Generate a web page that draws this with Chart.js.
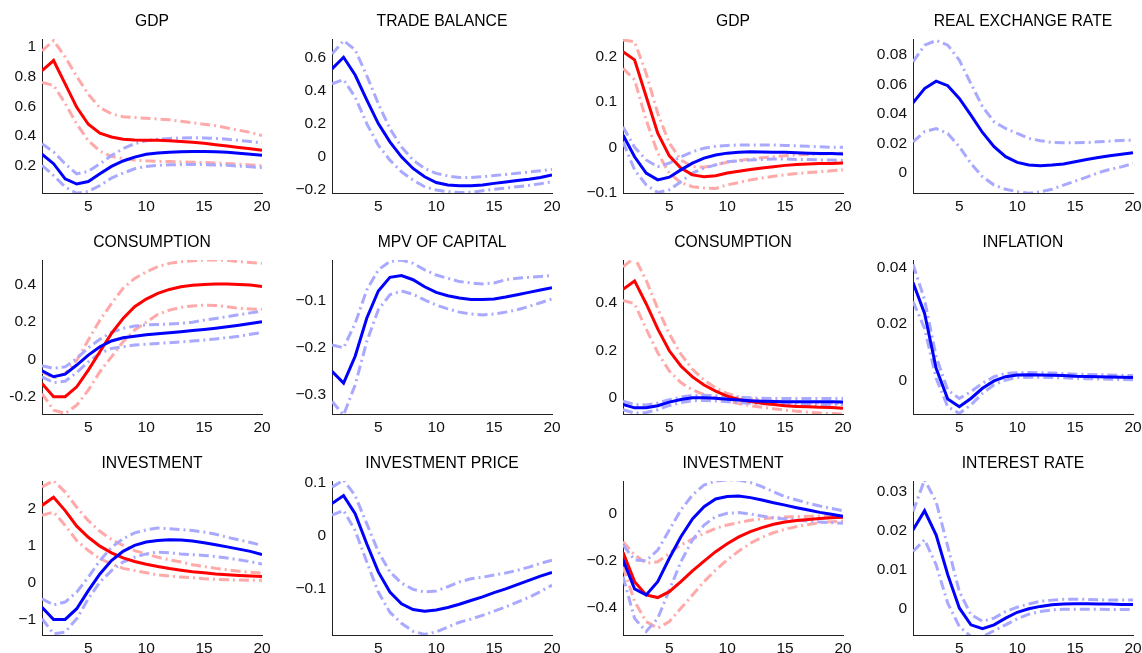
<!DOCTYPE html>
<html>
<head>
<meta charset="utf-8">
<script src="https://cdn.jsdelivr.net/npm/chart.js@4/dist/chart.umd.min.js"></script>
<style>
  html, body { margin: 0; padding: 0; background: #fff; }
  #fig { position: relative; width: 1142px; height: 653px; overflow: hidden; background: #fff; }
  #fig canvas { position: absolute; }
</style>
</head>
<body>
<div id="fig"></div>
<script>
// Horizon (quarters) and x-axis tick labels
const periods = [1, 2, 3, 4, 5, 6, 7, 8, 9, 10, 11, 12, 13, 14, 15, 16, 17, 18, 19, 20];
const xTicks = [5, 10, 15, 20];

// ---- GDP (first model pair) ----
const gdpATicks = [0.2, 0.4, 0.6, 0.8, 1];
const gdpARed   = [0.838, 0.906, 0.75, 0.593, 0.48, 0.42, 0.395, 0.38, 0.375, 0.373, 0.372, 0.37, 0.365, 0.36, 0.352, 0.343, 0.335, 0.325, 0.316, 0.305];
const gdpARedHi = [0.97, 1.04, 0.93, 0.8, 0.68, 0.59, 0.55, 0.53, 0.525, 0.52, 0.515, 0.51, 0.5, 0.49, 0.48, 0.47, 0.455, 0.44, 0.425, 0.405];
const gdpARedLo = [0.76, 0.74, 0.62, 0.48, 0.37, 0.3, 0.265, 0.25, 0.24, 0.235, 0.232, 0.23, 0.228, 0.226, 0.224, 0.22, 0.217, 0.213, 0.208, 0.202];
const gdpABlue   = [0.279, 0.216, 0.115, 0.08, 0.097, 0.148, 0.198, 0.234, 0.26, 0.279, 0.287, 0.293, 0.296, 0.298, 0.298, 0.296, 0.292, 0.286, 0.279, 0.272];
const gdpABlueHi = [0.35, 0.295, 0.215, 0.148, 0.165, 0.215, 0.27, 0.317, 0.35, 0.37, 0.38, 0.385, 0.388, 0.389, 0.388, 0.385, 0.38, 0.372, 0.364, 0.355];
const gdpABlueLo = [0.205, 0.137, 0.06, 0.018, 0.03, 0.07, 0.12, 0.153, 0.182, 0.198, 0.205, 0.209, 0.21, 0.21, 0.21, 0.208, 0.205, 0.2, 0.195, 0.19];

// ---- Trade balance ----
const tradeTicks  = [-0.2, 0, 0.2, 0.4, 0.6];
const tradeBlue   = [0.53, 0.6, 0.493, 0.343, 0.2, 0.09, 0.0, -0.07, -0.12, -0.155, -0.17, -0.175, -0.175, -0.17, -0.16, -0.152, -0.143, -0.135, -0.125, -0.11];
const tradeBlueHi = [0.62, 0.7, 0.645, 0.49, 0.32, 0.17, 0.06, -0.02, -0.07, -0.1, -0.115, -0.125, -0.125, -0.12, -0.113, -0.106, -0.099, -0.092, -0.084, -0.075];
const tradeBlueLo = [0.44, 0.465, 0.36, 0.2, 0.07, -0.02, -0.09, -0.14, -0.18, -0.2, -0.21, -0.215, -0.214, -0.205, -0.195, -0.188, -0.18, -0.172, -0.162, -0.15];

// ---- GDP (second model pair) ----
const gdpBTicks = [-0.1, 0, 0.1, 0.2];
const gdpBRed   = [0.211, 0.193, 0.112, 0.031, -0.019, -0.046, -0.061, -0.065, -0.063, -0.057, -0.053, -0.049, -0.046, -0.043, -0.04, -0.038, -0.037, -0.036, -0.036, -0.035];
const gdpBRedHi = [0.237, 0.233, 0.163, 0.075, 0.009, -0.028, -0.043, -0.044, -0.039, -0.033, -0.029, -0.026, -0.023, -0.021, -0.019, -0.017, -0.016, -0.015, -0.014, -0.013];
const gdpBRedLo = [0.174, 0.149, 0.06, -0.013, -0.057, -0.078, -0.087, -0.09, -0.091, -0.083, -0.078, -0.072, -0.068, -0.064, -0.061, -0.058, -0.056, -0.054, -0.052, -0.05];
const gdpBBlue   = [0.027, -0.021, -0.057, -0.072, -0.066, -0.05, -0.035, -0.024, -0.017, -0.013, -0.011, -0.01, -0.0105, -0.011, -0.011, -0.012, -0.013, -0.014, -0.014, -0.015];
const gdpBBlueHi = [0.045, 0.0, -0.028, -0.043, -0.035, -0.021, -0.01, -0.002, 0.002, 0.004, 0.005, 0.005, 0.005, 0.005, 0.004, 0.003, 0.002, 0.001, 0.0, 0.0];
const gdpBBlueLo = [0.012, -0.05, -0.083, -0.1, -0.094, -0.076, -0.057, -0.046, -0.039, -0.032, -0.03, -0.028, -0.027, -0.026, -0.026, -0.027, -0.027, -0.028, -0.028, -0.029];

// ---- Real exchange rate ----
const rerTicks  = [0, 0.02, 0.04, 0.06, 0.08];
const rerBlue   = [0.0476, 0.0573, 0.0623, 0.0592, 0.0505, 0.0392, 0.0274, 0.0177, 0.0109, 0.007, 0.0052, 0.0048, 0.0052, 0.006, 0.0075, 0.009, 0.0103, 0.0115, 0.0125, 0.0136];
const rerBlueHi = [0.0755, 0.0868, 0.09, 0.0868, 0.0766, 0.0607, 0.0449, 0.0347, 0.0301, 0.0267, 0.0233, 0.0218, 0.0206, 0.0204, 0.0204, 0.0205, 0.021, 0.0215, 0.022, 0.0222];
const rerBlueLo = [0.021, 0.0279, 0.0301, 0.0267, 0.0177, 0.0063, -0.0027, -0.0084, -0.0113, -0.0129, -0.014, -0.013, -0.0113, -0.0084, -0.0057, -0.003, 0.0, 0.0023, 0.004, 0.0063];

// ---- Consumption (first model pair) ----
const consATicks = [-0.2, 0, 0.2, 0.4];
const consARed   = [-0.129, -0.2, -0.2, -0.147, -0.057, 0.041, 0.14, 0.22, 0.283, 0.324, 0.355, 0.376, 0.39, 0.398, 0.403, 0.405, 0.405, 0.403, 0.4, 0.392];
const consARedHi = [-0.066, -0.1, -0.075, -0.004, 0.104, 0.211, 0.3, 0.382, 0.435, 0.47, 0.498, 0.516, 0.525, 0.53, 0.534, 0.534, 0.532, 0.525, 0.52, 0.516];
const consARedLo = [-0.183, -0.272, -0.29, -0.245, -0.165, -0.066, 0.014, 0.095, 0.158, 0.2, 0.242, 0.265, 0.28, 0.287, 0.292, 0.29, 0.283, 0.274, 0.271, 0.269];
const consABlue   = [-0.061, -0.093, -0.079, -0.03, 0.023, 0.068, 0.099, 0.116, 0.125, 0.133, 0.138, 0.143, 0.149, 0.155, 0.161, 0.168, 0.176, 0.184, 0.193, 0.202];
const consABlueHi = [-0.034, -0.048, -0.04, 0.005, 0.063, 0.108, 0.145, 0.167, 0.179, 0.185, 0.188, 0.19, 0.194, 0.2, 0.211, 0.22, 0.23, 0.24, 0.25, 0.26];
const consABlueLo = [-0.093, -0.124, -0.117, -0.07, -0.013, 0.032, 0.059, 0.068, 0.077, 0.082, 0.086, 0.09, 0.094, 0.099, 0.104, 0.11, 0.117, 0.125, 0.135, 0.145];

// ---- Marginal present value of capital ----
const mpvTicks  = [-0.3, -0.2, -0.1];
const mpvBlue   = [-0.25, -0.275, -0.218, -0.137, -0.079, -0.05, -0.046, -0.055, -0.07, -0.082, -0.089, -0.094, -0.097, -0.097, -0.096, -0.092, -0.087, -0.082, -0.077, -0.072];
const mpvBlueHi = [-0.194, -0.2, -0.148, -0.077, -0.034, -0.016, -0.013, -0.02, -0.034, -0.045, -0.052, -0.059, -0.062, -0.064, -0.062, -0.055, -0.052, -0.05, -0.048, -0.046];
const mpvBlueLo = [-0.314, -0.343, -0.279, -0.187, -0.119, -0.087, -0.079, -0.086, -0.098, -0.109, -0.117, -0.124, -0.128, -0.13, -0.128, -0.124, -0.119, -0.112, -0.104, -0.096];

// ---- Consumption (second model pair) ----
const consBTicks = [0, 0.2, 0.4];
const consBRed   = [0.457, 0.492, 0.396, 0.29, 0.198, 0.134, 0.088, 0.054, 0.028, 0.007, -0.007, -0.016, -0.023, -0.028, -0.033, -0.036, -0.038, -0.04, -0.041, -0.044];
const consBRedHi = [0.551, 0.59, 0.495, 0.375, 0.269, 0.184, 0.12, 0.075, 0.042, 0.018, 0.004, -0.004, -0.009, -0.013, -0.017, -0.019, -0.021, -0.022, -0.023, -0.024];
const consBRedLo = [0.41, 0.396, 0.29, 0.19, 0.113, 0.064, 0.033, 0.014, 0.0, -0.014, -0.024, -0.033, -0.04, -0.046, -0.052, -0.056, -0.061, -0.064, -0.066, -0.068];
const consBBlue   = [-0.028, -0.042, -0.042, -0.033, -0.018, -0.007, 0.0, 0.0, -0.002, -0.006, -0.009, -0.012, -0.014, -0.015, -0.016, -0.016, -0.016, -0.016, -0.016, -0.017];
const consBBlueHi = [-0.014, -0.028, -0.03, -0.022, -0.008, 0.003, 0.01, 0.011, 0.009, 0.005, 0.002, 0.0, -0.002, -0.003, -0.003, -0.003, -0.003, -0.003, -0.003, -0.003];
const consBBlueLo = [-0.05, -0.064, -0.062, -0.05, -0.032, -0.02, -0.012, -0.011, -0.013, -0.017, -0.02, -0.023, -0.025, -0.026, -0.027, -0.027, -0.028, -0.028, -0.028, -0.028];

// ---- Inflation ----
const inflTicks  = [0, 0.02, 0.04];
const inflBlue   = [0.0347, 0.0238, 0.0044, -0.0065, -0.0092, -0.0063, -0.0027, -0.0001, 0.0014, 0.002, 0.0021, 0.002, 0.0019, 0.0018, 0.0016, 0.0015, 0.0014, 0.0013, 0.0012, 0.0011];
const inflBlueHi = [0.0412, 0.0286, 0.0085, -0.0033, -0.0063, -0.0039, -0.0009, 0.0014, 0.0026, 0.0028, 0.0029, 0.0028, 0.0027, 0.0025, 0.0023, 0.0022, 0.0021, 0.002, 0.0019, 0.0018];
const inflBlueLo = [0.028, 0.0185, 0.0008, -0.0092, -0.0116, -0.0086, -0.0045, -0.0015, 0.0002, 0.0011, 0.0012, 0.0012, 0.0011, 0.001, 0.0008, 0.0007, 0.0006, 0.0005, 0.0004, 0.0003];

// ---- Investment (first model pair) ----
const invATicks = [-1, 0, 1, 2];
const invARed   = [2.1, 2.32, 1.96, 1.54, 1.24, 1.0, 0.82, 0.685, 0.585, 0.513, 0.45, 0.396, 0.35, 0.31, 0.28, 0.25, 0.23, 0.21, 0.195, 0.18];
const invARedHi = [2.6, 2.77, 2.46, 2.05, 1.69, 1.4, 1.18, 1.02, 0.88, 0.79, 0.7, 0.63, 0.57, 0.5, 0.45, 0.4, 0.36, 0.32, 0.295, 0.27];
const invARedLo = [1.83, 1.92, 1.56, 1.15, 0.88, 0.66, 0.52, 0.4, 0.34, 0.28, 0.225, 0.19, 0.165, 0.145, 0.12, 0.105, 0.09, 0.085, 0.08, 0.08];
const invABlue   = [-0.65, -0.98, -0.98, -0.69, -0.2, 0.25, 0.61, 0.86, 1.02, 1.11, 1.15, 1.17, 1.165, 1.14, 1.09, 1.04, 0.98, 0.92, 0.86, 0.77];
const invABlueHi = [-0.42, -0.59, -0.51, -0.24, 0.16, 0.61, 0.97, 1.2, 1.36, 1.44, 1.49, 1.47, 1.45, 1.42, 1.38, 1.32, 1.24, 1.17, 1.1, 1.02];
const invABlueLo = [-0.96, -1.37, -1.32, -0.96, -0.42, 0.03, 0.34, 0.57, 0.7, 0.79, 0.84, 0.82, 0.79, 0.77, 0.75, 0.72, 0.68, 0.63, 0.58, 0.52];

// ---- Investment price ----
const ipTicks  = [-0.1, 0, 0.1];
const ipBlue   = [0.06, 0.075, 0.041, -0.016, -0.069, -0.107, -0.129, -0.14, -0.143, -0.141, -0.136, -0.13, -0.123, -0.116, -0.108, -0.101, -0.093, -0.085, -0.077, -0.07];
const ipBlueHi = [0.091, 0.104, 0.075, 0.022, -0.031, -0.069, -0.09, -0.102, -0.107, -0.105, -0.097, -0.088, -0.082, -0.079, -0.075, -0.071, -0.066, -0.06, -0.053, -0.047];
const ipBlueLo = [0.038, 0.047, 0.009, -0.05, -0.107, -0.145, -0.166, -0.181, -0.187, -0.182, -0.173, -0.164, -0.158, -0.151, -0.143, -0.135, -0.126, -0.117, -0.106, -0.094];

// ---- Investment (second model pair) ----
const invBTicks = [-0.4, -0.2, 0];
const invBRed   = [-0.164, -0.289, -0.346, -0.357, -0.332, -0.289, -0.243, -0.201, -0.161, -0.127, -0.098, -0.075, -0.058, -0.044, -0.034, -0.028, -0.023, -0.019, -0.016, -0.014];
const invBRedHi = [-0.118, -0.175, -0.21, -0.204, -0.168, -0.132, -0.107, -0.083, -0.061, -0.047, -0.036, -0.027, -0.02, -0.016, -0.013, -0.011, -0.01, -0.009, -0.009, -0.009];
const invBRedLo = [-0.225, -0.374, -0.46, -0.488, -0.46, -0.403, -0.346, -0.289, -0.239, -0.196, -0.158, -0.125, -0.1, -0.08, -0.065, -0.054, -0.045, -0.037, -0.033, -0.03];
const invBBlue   = [-0.196, -0.32, -0.346, -0.289, -0.189, -0.097, -0.021, 0.031, 0.064, 0.075, 0.077, 0.07, 0.06, 0.048, 0.038, 0.027, 0.017, 0.007, -0.001, -0.01];
const invBBlueHi = [-0.132, -0.196, -0.2, -0.154, -0.068, 0.017, 0.081, 0.124, 0.141, 0.145, 0.145, 0.135, 0.117, 0.095, 0.074, 0.06, 0.046, 0.034, 0.024, 0.014];
const invBBlueLo = [-0.268, -0.446, -0.502, -0.446, -0.325, -0.204, -0.111, -0.047, -0.011, 0.003, 0.006, 0.0, -0.009, -0.016, -0.021, -0.025, -0.03, -0.034, -0.037, -0.04];

// ---- Interest rate ----
const rateTicks  = [0, 0.01, 0.02, 0.03];
const rateBlue   = [0.0202, 0.0251, 0.0189, 0.0088, 0.0003, -0.004, -0.005, -0.004, -0.0023, -0.0008, 0.0001, 0.0007, 0.0011, 0.0013, 0.0014, 0.0014, 0.0013, 0.0013, 0.0012, 0.0012];
const rateBlueHi = [0.0249, 0.033, 0.0274, 0.016, 0.0045, -0.0014, -0.0031, -0.0023, -0.0006, 0.0005, 0.0013, 0.002, 0.0023, 0.0025, 0.0025, 0.0025, 0.0024, 0.0023, 0.0023, 0.0023];
const rateBlueLo = [0.0147, 0.0177, 0.0113, 0.0015, -0.0044, -0.007, -0.007, -0.0055, -0.004, -0.0025, -0.0013, -0.0006, -0.0002, 0.0, 0.0, 0.0, 0.0, -0.0001, -0.0001, -0.0001];

// ---- Panel grid ----
const panels = [
  { title: 'GDP',                col: 0, row: 0, min: 0.02,    max: 1.05,   ticks: gdpATicks, red: [gdpARed, gdpARedHi, gdpARedLo], blue: [gdpABlue, gdpABlueHi, gdpABlueLo] },
  { title: 'TRADE BALANCE',      col: 1, row: 0, min: -0.218,  max: 0.71,   ticks: tradeTicks, blue: [tradeBlue, tradeBlueHi, tradeBlueLo] },
  { title: 'GDP',                col: 2, row: 0, min: -0.101,  max: 0.239,  ticks: gdpBTicks, red: [gdpBRed, gdpBRedHi, gdpBRedLo], blue: [gdpBBlue, gdpBBlueHi, gdpBBlueLo] },
  { title: 'REAL EXCHANGE RATE', col: 3, row: 0, min: -0.0138, max: 0.091,  ticks: rerTicks, blue: [rerBlue, rerBlueHi, rerBlueLo] },
  { title: 'CONSUMPTION',        col: 0, row: 1, min: -0.293,  max: 0.534,  ticks: consATicks, hyphen: true, red: [consARed, consARedHi, consARedLo], blue: [consABlue, consABlueHi, consABlueLo] },
  { title: 'MPV OF CAPITAL',     col: 1, row: 1, min: -0.341,  max: -0.013, ticks: mpvTicks, blue: [mpvBlue, mpvBlueHi, mpvBlueLo] },
  { title: 'CONSUMPTION',        col: 2, row: 1, min: -0.068,  max: 0.58,   ticks: consBTicks, red: [consBRed, consBRedHi, consBRedLo], blue: [consBBlue, consBBlueHi, consBBlueLo] },
  { title: 'INFLATION',          col: 3, row: 1, min: -0.0118, max: 0.0427, ticks: inflTicks, blue: [inflBlue, inflBlueHi, inflBlueLo] },
  { title: 'INVESTMENT',         col: 0, row: 2, min: -1.4,    max: 2.76,   ticks: invATicks, red: [invARed, invARedHi, invARedLo], blue: [invABlue, invABlueHi, invABlueLo] },
  { title: 'INVESTMENT PRICE',   col: 1, row: 2, min: -0.188,  max: 0.1025, ticks: ipTicks, blue: [ipBlue, ipBlueHi, ipBlueLo] },
  { title: 'INVESTMENT',         col: 2, row: 2, min: -0.517,  max: 0.141,  ticks: invBTicks, red: [invBRed, invBRedHi, invBRedLo], blue: [invBBlue, invBBlueHi, invBBlueLo] },
  { title: 'INTEREST RATE',      col: 3, row: 2, min: -0.0066, max: 0.0327, ticks: rateTicks, blue: [rateBlue, rateBlueHi, rateBlueLo] }
];

// Plot-area geometry
const COL_LEFT = [42, 332, 623, 913];
const ROW_TOP = [39, 260, 481];
const PLOT_W = 220, PLOT_H = 154;
const Y_AXIS_W = 42, TOP_SPACE = 40, X_AXIS_H = 26, RIGHT_PAD = 14;

const FONT = '"Liberation Sans", Arial, Helvetica, sans-serif';
const TICK_SIZE = 15.5, TITLE_SIZE = 15.7;
const BLUE = '#0000ff', RED = '#ff0000';
const BLUE_BAND = '#a9a9ff', RED_BAND = '#ffa9a9';
const DASH_DOT = [10, 4, 2, 4];

Chart.defaults.font.family = FONT;
Chart.defaults.color = '#111';

const panelTitle = {
  id: 'panelTitle',
  afterDraw(chart, args, opts) {
    const { ctx, chartArea } = chart;
    ctx.save();
    ctx.font = TITLE_SIZE + 'px ' + FONT;
    ctx.fillStyle = '#000';
    ctx.textAlign = 'center';
    ctx.textBaseline = 'middle';
    ctx.fillText(opts.text, (chartArea.left + chartArea.right) / 2, chartArea.top - 17.5);
    ctx.restore();
  }
};

function line(values, color, width, dash, order) {
  return {
    data: periods.map((p, i) => ({ x: p, y: values[i] })),
    borderColor: color,
    borderWidth: width,
    borderDash: dash,
    borderCapStyle: 'butt',
    pointRadius: 0,
    tension: 0,
    fill: false,
    order: order
  };
}

function fmt(v, hyphen) {
  const s = String(parseFloat(Number(v).toPrecision(8)));
  return hyphen ? s : s.replace('-', '\u2212');
}

const fig = document.getElementById('fig');

panels.forEach(p => {
  const canvas = document.createElement('canvas');
  const w = Y_AXIS_W + PLOT_W + RIGHT_PAD;
  const h = TOP_SPACE + PLOT_H + X_AXIS_H;
  canvas.width = w;
  canvas.height = h;
  canvas.style.width = w + 'px';
  canvas.style.height = h + 'px';
  canvas.style.left = (COL_LEFT[p.col] - Y_AXIS_W) + 'px';
  canvas.style.top = (ROW_TOP[p.row] - TOP_SPACE) + 'px';
  fig.appendChild(canvas);

  const datasets = [];
  if (p.red) {
    datasets.push(line(p.red[1], RED_BAND, 3, DASH_DOT, 5));
    datasets.push(line(p.red[2], RED_BAND, 3, DASH_DOT, 5));
  }
  datasets.push(line(p.blue[1], BLUE_BAND, 3, DASH_DOT, 4));
  datasets.push(line(p.blue[2], BLUE_BAND, 3, DASH_DOT, 4));
  if (p.red) datasets.push(line(p.red[0], RED, 3, [], 1));
  datasets.push(line(p.blue[0], BLUE, 3, [], 0));

  new Chart(canvas, {
    type: 'line',
    data: { datasets },
    options: {
      responsive: false,
      animation: false,
      devicePixelRatio: 1,
      layout: { padding: { top: TOP_SPACE, left: 0, right: RIGHT_PAD, bottom: 0 } },
      plugins: {
        legend: { display: false },
        tooltip: { enabled: false },
        title: { display: false },
        panelTitle: { text: p.title }
      },
      scales: {
        x: {
          type: 'linear',
          min: 1,
          max: 20,
          grid: { display: false, drawTicks: false },
          border: { display: true, color: '#222', width: 1 },
          afterBuildTicks: axis => { axis.ticks = xTicks.map(v => ({ value: v })); },
          afterFit: axis => { axis.height = X_AXIS_H; },
          ticks: {
            padding: 4,
            maxRotation: 0,
            autoSkip: false,
            font: { size: TICK_SIZE, family: FONT },
            color: '#111',
            callback: v => fmt(v, false)
          }
        },
        y: {
          type: 'linear',
          min: p.min,
          max: p.max,
          grid: { display: false, drawTicks: false },
          border: { display: true, color: '#222', width: 1 },
          afterBuildTicks: axis => { axis.ticks = p.ticks.map(v => ({ value: v })); },
          afterFit: axis => { axis.width = Y_AXIS_W; },
          ticks: {
            padding: 6,
            autoSkip: false,
            font: { size: TICK_SIZE, family: FONT },
            color: '#111',
            callback: v => fmt(v, p.hyphen)
          }
        }
      }
    },
    plugins: [panelTitle]
  });
});
</script>
</body>
</html>
